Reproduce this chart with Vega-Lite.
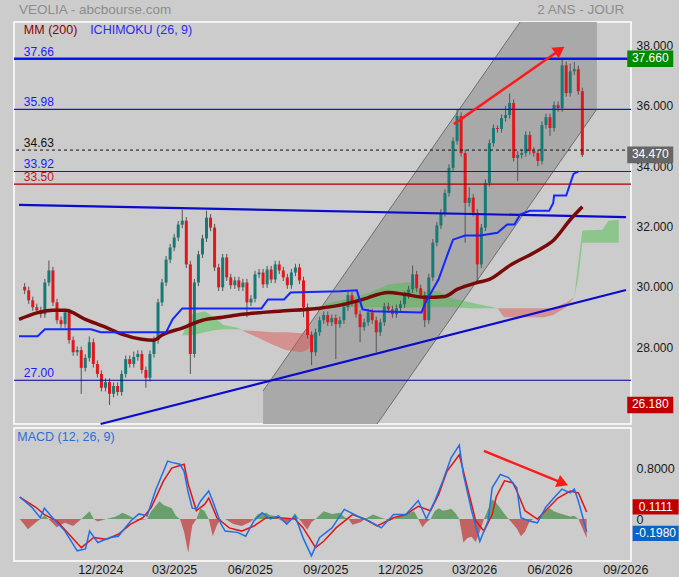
{
  "$schema": "https://vega.github.io/schema/vega-lite/v6.json",
  "description": "VEOLIA - cours 2 ans, MM200, Ichimoku, canal et MACD",
  "background": "#cccccc",
  "padding": {"left": 11, "top": 2, "right": 0, "bottom": 0},
  "bounds": "flush",
  "config": {
    "font": "Liberation Sans",
    "view": {"stroke": "#ffffff", "strokeWidth": 1.5},
    "axis": {"grid": false, "domain": false, "ticks": false}
  },
  "spacing": 4,
  "datasets": {
    "cours": [
      {"d":"2024-08-25","o":30.10,"h":30.22,"l":29.86,"c":29.98},
      {"d":"2024-08-30","o":29.98,"h":30.10,"l":29.53,"c":29.65},
      {"d":"2024-09-04","o":29.65,"h":29.77,"l":29.30,"c":29.42},
      {"d":"2024-09-09","o":29.42,"h":29.54,"l":29.20,"c":29.32},
      {"d":"2024-09-14","o":29.32,"h":29.44,"l":29.07,"c":29.19},
      {"d":"2024-09-19","o":29.19,"h":30.36,"l":29.07,"c":30.24},
      {"d":"2024-09-24","o":30.24,"h":30.97,"l":30.12,"c":30.64},
      {"d":"2024-09-29","o":30.64,"h":30.76,"l":29.46,"c":29.58},
      {"d":"2024-10-04","o":29.58,"h":29.70,"l":28.87,"c":28.99},
      {"d":"2024-10-09","o":28.99,"h":29.11,"l":28.74,"c":28.86},
      {"d":"2024-10-14","o":28.86,"h":29.37,"l":28.74,"c":29.25},
      {"d":"2024-10-19","o":29.25,"h":29.37,"l":28.21,"c":28.33},
      {"d":"2024-10-24","o":28.33,"h":28.45,"l":27.81,"c":27.93},
      {"d":"2024-10-29","o":27.93,"h":28.12,"l":27.81,"c":28.00},
      {"d":"2024-11-03","o":28.00,"h":28.12,"l":26.55,"c":27.41},
      {"d":"2024-11-08","o":27.41,"h":27.86,"l":27.29,"c":27.74},
      {"d":"2024-11-13","o":27.74,"h":28.45,"l":27.62,"c":28.26},
      {"d":"2024-11-18","o":28.26,"h":28.38,"l":27.42,"c":27.54},
      {"d":"2024-11-23","o":27.54,"h":27.66,"l":27.09,"c":27.21},
      {"d":"2024-11-28","o":27.21,"h":27.33,"l":26.63,"c":26.75},
      {"d":"2024-12-03","o":26.75,"h":27.06,"l":26.63,"c":26.94},
      {"d":"2024-12-08","o":26.94,"h":27.06,"l":26.18,"c":26.55},
      {"d":"2024-12-13","o":26.55,"h":26.93,"l":26.43,"c":26.81},
      {"d":"2024-12-18","o":26.81,"h":26.93,"l":26.49,"c":26.61},
      {"d":"2024-12-23","o":26.61,"h":27.33,"l":26.49,"c":27.21},
      {"d":"2024-12-28","o":27.21,"h":27.82,"l":27.09,"c":27.70},
      {"d":"2025-01-02","o":27.70,"h":27.82,"l":27.42,"c":27.54},
      {"d":"2025-01-07","o":27.54,"h":27.95,"l":27.42,"c":27.77},
      {"d":"2025-01-12","o":27.77,"h":27.99,"l":27.65,"c":27.87},
      {"d":"2025-01-17","o":27.87,"h":27.99,"l":27.22,"c":27.34},
      {"d":"2025-01-22","o":27.34,"h":27.46,"l":26.75,"c":27.08},
      {"d":"2025-01-27","o":27.08,"h":27.99,"l":26.96,"c":27.87},
      {"d":"2025-02-01","o":27.87,"h":28.45,"l":27.75,"c":28.33},
      {"d":"2025-02-06","o":28.33,"h":29.70,"l":28.21,"c":29.58},
      {"d":"2025-02-11","o":29.58,"h":30.36,"l":29.46,"c":30.24},
      {"d":"2025-02-16","o":30.24,"h":31.12,"l":30.12,"c":31.00},
      {"d":"2025-02-21","o":31.00,"h":31.52,"l":30.88,"c":31.40},
      {"d":"2025-02-26","o":31.40,"h":31.85,"l":31.28,"c":31.73},
      {"d":"2025-03-03","o":31.73,"h":32.28,"l":31.61,"c":32.16},
      {"d":"2025-03-08","o":32.16,"h":32.65,"l":32.04,"c":32.29},
      {"d":"2025-03-13","o":32.29,"h":32.41,"l":30.72,"c":30.84},
      {"d":"2025-03-18","o":30.84,"h":30.96,"l":27.21,"c":27.87},
      {"d":"2025-03-23","o":27.87,"h":30.36,"l":27.75,"c":30.24},
      {"d":"2025-03-28","o":30.24,"h":31.29,"l":30.12,"c":31.17},
      {"d":"2025-04-02","o":31.17,"h":31.82,"l":31.05,"c":31.70},
      {"d":"2025-04-07","o":31.70,"h":32.62,"l":31.58,"c":32.39},
      {"d":"2025-04-12","o":32.39,"h":32.51,"l":31.94,"c":32.06},
      {"d":"2025-04-17","o":32.06,"h":32.18,"l":30.62,"c":30.74},
      {"d":"2025-04-22","o":30.74,"h":30.86,"l":29.96,"c":30.08},
      {"d":"2025-04-27","o":30.08,"h":31.19,"l":29.96,"c":31.07},
      {"d":"2025-05-02","o":31.07,"h":31.19,"l":30.29,"c":30.41},
      {"d":"2025-05-07","o":30.41,"h":30.53,"l":30.03,"c":30.15},
      {"d":"2025-05-12","o":30.15,"h":30.43,"l":30.03,"c":30.31},
      {"d":"2025-05-17","o":30.31,"h":30.43,"l":29.96,"c":30.08},
      {"d":"2025-05-22","o":30.08,"h":30.36,"l":29.96,"c":30.24},
      {"d":"2025-05-27","o":30.24,"h":30.36,"l":29.09,"c":29.58},
      {"d":"2025-06-01","o":29.58,"h":29.82,"l":29.46,"c":29.70},
      {"d":"2025-06-06","o":29.70,"h":30.63,"l":29.58,"c":30.51},
      {"d":"2025-06-11","o":30.51,"h":30.69,"l":30.39,"c":30.57},
      {"d":"2025-06-16","o":30.57,"h":30.69,"l":30.06,"c":30.18},
      {"d":"2025-06-21","o":30.18,"h":30.79,"l":30.06,"c":30.67},
      {"d":"2025-06-26","o":30.67,"h":30.79,"l":30.22,"c":30.34},
      {"d":"2025-07-01","o":30.34,"h":30.96,"l":30.22,"c":30.84},
      {"d":"2025-07-06","o":30.84,"h":30.96,"l":30.52,"c":30.64},
      {"d":"2025-07-11","o":30.64,"h":30.76,"l":30.29,"c":30.41},
      {"d":"2025-07-16","o":30.41,"h":30.53,"l":30.03,"c":30.15},
      {"d":"2025-07-21","o":30.15,"h":30.69,"l":30.03,"c":30.57},
      {"d":"2025-07-26","o":30.57,"h":30.86,"l":30.45,"c":30.74},
      {"d":"2025-07-31","o":30.74,"h":30.86,"l":30.19,"c":30.31},
      {"d":"2025-08-05","o":30.31,"h":30.43,"l":29.09,"c":29.42},
      {"d":"2025-08-10","o":29.42,"h":29.54,"l":28.38,"c":28.50},
      {"d":"2025-08-15","o":28.50,"h":28.62,"l":27.50,"c":27.93},
      {"d":"2025-08-20","o":27.93,"h":28.71,"l":27.81,"c":28.59},
      {"d":"2025-08-25","o":28.59,"h":29.11,"l":28.47,"c":28.99},
      {"d":"2025-08-30","o":28.99,"h":29.28,"l":28.87,"c":29.16},
      {"d":"2025-09-04","o":29.16,"h":29.28,"l":28.80,"c":28.92},
      {"d":"2025-09-09","o":28.92,"h":29.18,"l":28.80,"c":29.06},
      {"d":"2025-09-14","o":29.06,"h":29.18,"l":27.70,"c":28.86},
      {"d":"2025-09-19","o":28.86,"h":29.11,"l":28.74,"c":28.99},
      {"d":"2025-09-24","o":28.99,"h":29.54,"l":28.87,"c":29.42},
      {"d":"2025-09-29","o":29.42,"h":29.98,"l":29.30,"c":29.82},
      {"d":"2025-10-04","o":29.82,"h":29.94,"l":29.46,"c":29.58},
      {"d":"2025-10-09","o":29.58,"h":29.70,"l":29.07,"c":29.19},
      {"d":"2025-10-14","o":29.19,"h":29.31,"l":28.26,"c":28.76},
      {"d":"2025-10-19","o":28.76,"h":29.04,"l":28.64,"c":28.92},
      {"d":"2025-10-24","o":28.92,"h":29.37,"l":28.80,"c":29.25},
      {"d":"2025-10-29","o":29.25,"h":29.37,"l":28.87,"c":28.99},
      {"d":"2025-11-03","o":28.99,"h":29.11,"l":27.93,"c":28.59},
      {"d":"2025-11-08","o":28.59,"h":29.04,"l":28.47,"c":28.92},
      {"d":"2025-11-13","o":28.92,"h":29.57,"l":28.80,"c":29.45},
      {"d":"2025-11-18","o":29.45,"h":29.57,"l":29.23,"c":29.35},
      {"d":"2025-11-23","o":29.35,"h":29.47,"l":29.07,"c":29.19},
      {"d":"2025-11-28","o":29.19,"h":29.51,"l":29.07,"c":29.39},
      {"d":"2025-12-03","o":29.39,"h":29.64,"l":29.27,"c":29.52},
      {"d":"2025-12-08","o":29.52,"h":29.94,"l":29.40,"c":29.82},
      {"d":"2025-12-13","o":29.82,"h":30.13,"l":29.70,"c":30.01},
      {"d":"2025-12-18","o":30.01,"h":30.80,"l":29.89,"c":30.51},
      {"d":"2025-12-23","o":30.51,"h":30.63,"l":29.93,"c":30.05},
      {"d":"2025-12-28","o":30.05,"h":30.17,"l":29.70,"c":29.82},
      {"d":"2026-01-02","o":29.82,"h":29.94,"l":28.76,"c":28.99},
      {"d":"2026-01-07","o":28.99,"h":30.53,"l":28.87,"c":30.41},
      {"d":"2026-01-12","o":30.41,"h":31.68,"l":30.29,"c":31.56},
      {"d":"2026-01-17","o":31.56,"h":32.25,"l":31.44,"c":32.13},
      {"d":"2026-01-22","o":32.13,"h":32.67,"l":32.01,"c":32.55},
      {"d":"2026-01-27","o":32.55,"h":33.33,"l":32.43,"c":33.21},
      {"d":"2026-02-01","o":33.21,"h":34.16,"l":33.09,"c":34.04},
      {"d":"2026-02-06","o":34.04,"h":35.05,"l":33.92,"c":34.93},
      {"d":"2026-02-11","o":34.93,"h":35.98,"l":34.81,"c":35.76},
      {"d":"2026-02-16","o":35.76,"h":35.88,"l":34.41,"c":34.53},
      {"d":"2026-02-21","o":34.53,"h":34.65,"l":31.56,"c":32.88},
      {"d":"2026-02-26","o":32.88,"h":33.40,"l":32.76,"c":33.05},
      {"d":"2026-03-03","o":33.05,"h":33.17,"l":32.43,"c":32.55},
      {"d":"2026-03-08","o":32.55,"h":32.67,"l":30.24,"c":30.84},
      {"d":"2026-03-13","o":30.84,"h":32.18,"l":30.72,"c":32.06},
      {"d":"2026-03-18","o":32.06,"h":33.66,"l":31.94,"c":33.54},
      {"d":"2026-03-23","o":33.54,"h":34.98,"l":33.42,"c":34.86},
      {"d":"2026-03-28","o":34.86,"h":35.48,"l":34.74,"c":35.36},
      {"d":"2026-04-02","o":35.36,"h":35.45,"l":35.21,"c":35.33},
      {"d":"2026-04-07","o":35.33,"h":35.81,"l":35.21,"c":35.69},
      {"d":"2026-04-12","o":35.69,"h":36.10,"l":35.57,"c":35.79},
      {"d":"2026-04-17","o":35.79,"h":36.51,"l":35.67,"c":36.19},
      {"d":"2026-04-22","o":36.19,"h":36.31,"l":34.25,"c":34.37},
      {"d":"2026-04-27","o":34.37,"h":34.59,"l":33.60,"c":34.47},
      {"d":"2026-05-02","o":34.47,"h":34.65,"l":34.35,"c":34.53},
      {"d":"2026-05-07","o":34.53,"h":35.25,"l":34.41,"c":35.13},
      {"d":"2026-05-12","o":35.13,"h":35.25,"l":34.48,"c":34.60},
      {"d":"2026-05-17","o":34.60,"h":34.72,"l":34.41,"c":34.53},
      {"d":"2026-05-22","o":34.53,"h":34.65,"l":34.10,"c":34.27},
      {"d":"2026-05-27","o":34.27,"h":35.58,"l":34.15,"c":35.46},
      {"d":"2026-06-01","o":35.46,"h":35.84,"l":35.34,"c":35.72},
      {"d":"2026-06-06","o":35.72,"h":35.84,"l":35.10,"c":35.36},
      {"d":"2026-06-11","o":35.36,"h":36.24,"l":35.24,"c":36.12},
      {"d":"2026-06-16","o":36.12,"h":36.24,"l":35.90,"c":36.02},
      {"d":"2026-06-21","o":36.02,"h":37.66,"l":35.90,"c":37.44},
      {"d":"2026-06-26","o":37.44,"h":37.56,"l":36.40,"c":36.52},
      {"d":"2026-07-01","o":36.52,"h":37.50,"l":36.40,"c":37.24},
      {"d":"2026-07-06","o":37.24,"h":37.55,"l":37.12,"c":37.31},
      {"d":"2026-07-11","o":37.31,"h":37.43,"l":36.46,"c":36.58},
      {"d":"2026-07-16","o":36.58,"h":36.70,"l":34.40,"c":34.47}
    ],
    "mm200": [
      {"d":"2024-08-18","p":29.02},{"d":"2024-09-29","p":29.32},{"d":"2024-10-14","p":29.32},
      {"d":"2024-11-08","p":29.02},{"d":"2024-12-03","p":28.76},{"d":"2024-12-23","p":28.53},
      {"d":"2025-01-17","p":28.36},{"d":"2025-02-01","p":28.33},{"d":"2025-02-11","p":28.50},
      {"d":"2025-03-08","p":28.73},{"d":"2025-04-02","p":28.99},{"d":"2025-04-27","p":29.09},
      {"d":"2025-05-22","p":29.19},{"d":"2025-06-16","p":29.25},{"d":"2025-07-06","p":29.29},
      {"d":"2025-08-25","p":29.39},{"d":"2025-09-19","p":29.49},{"d":"2025-10-14","p":29.65},
      {"d":"2025-11-18","p":29.91},{"d":"2025-12-08","p":29.85},{"d":"2026-01-02","p":29.75},
      {"d":"2026-01-27","p":29.78},{"d":"2026-02-11","p":30.01},{"d":"2026-03-08","p":30.24},
      {"d":"2026-03-23","p":30.34},{"d":"2026-04-17","p":30.80},{"d":"2026-05-22","p":31.30},
      {"d":"2026-06-11","p":31.66},{"d":"2026-07-01","p":32.32},{"d":"2026-07-16","p":32.75}
    ],
    "ichimoku": [
      {"d":"2024-08-18","p":28.46},{"d":"2024-09-10","p":28.46},{"d":"2024-09-19","p":28.69},
      {"d":"2024-11-15","p":28.69},{"d":"2024-11-27","p":28.59},{"d":"2025-02-16","p":28.59},
      {"d":"2025-02-24","p":29.02},{"d":"2025-03-08","p":29.38},{"d":"2025-06-14","p":29.38},
      {"d":"2025-06-22","p":29.68},{"d":"2025-07-12","p":29.68},{"d":"2025-07-20","p":29.91},
      {"d":"2025-09-19","p":29.95},{"d":"2025-10-10","p":29.98},{"d":"2025-10-17","p":29.35},
      {"d":"2025-10-29","p":29.29},{"d":"2025-12-29","p":29.25},{"d":"2026-01-03","p":29.58},
      {"d":"2026-01-19","p":30.34},{"d":"2026-01-31","p":31.23},{"d":"2026-02-06","p":31.66},
      {"d":"2026-02-21","p":31.80},{"d":"2026-03-12","p":31.80},{"d":"2026-04-02","p":31.89},
      {"d":"2026-04-14","p":32.16},{"d":"2026-04-23","p":32.16},{"d":"2026-04-30","p":32.49},
      {"d":"2026-05-12","p":32.62},{"d":"2026-06-05","p":32.62},{"d":"2026-06-10","p":32.88},
      {"d":"2026-06-11","p":33.12},{"d":"2026-06-26","p":33.12},{"d":"2026-07-05","p":33.84},
      {"d":"2026-07-11","p":33.92}
    ],
    "nuage_vert": [
      {"seg":"g1","d":"2025-03-08","sup":28.49,"inf":28.49},
      {"seg":"g1","d":"2025-03-20","sup":29.19,"inf":28.49},
      {"seg":"g1","d":"2025-04-05","sup":29.29,"inf":28.59},
      {"seg":"g1","d":"2025-04-16","sup":29.09,"inf":28.66},
      {"seg":"g1","d":"2025-04-28","sup":28.83,"inf":28.69},
      {"seg":"g1","d":"2025-05-17","sup":28.73,"inf":28.69},
      {"seg":"g1","d":"2025-05-20","sup":28.66,"inf":28.66},
      {"seg":"g2","d":"2025-08-20","sup":29.38,"inf":29.38},
      {"seg":"g2","d":"2025-08-22","sup":29.42,"inf":29.35},
      {"seg":"g2","d":"2025-09-07","sup":29.58,"inf":29.39},
      {"seg":"g2","d":"2025-09-25","sup":29.68,"inf":29.42},
      {"seg":"g2","d":"2025-10-26","sup":29.91,"inf":29.42},
      {"seg":"g2","d":"2025-11-19","sup":30.18,"inf":29.42},
      {"seg":"g2","d":"2025-12-13","sup":30.24,"inf":29.42},
      {"seg":"g2","d":"2025-12-29","sup":29.95,"inf":29.42},
      {"seg":"g2","d":"2026-01-19","sup":29.95,"inf":29.42},
      {"seg":"g2","d":"2026-02-04","sup":29.72,"inf":29.42},
      {"seg":"g2","d":"2026-02-28","sup":29.58,"inf":29.39},
      {"seg":"g2","d":"2026-04-02","sup":29.39,"inf":29.39},
      {"seg":"g3","d":"2026-07-06","sup":29.75,"inf":29.75},
      {"seg":"g3","d":"2026-07-11","sup":30.90,"inf":30.41},
      {"seg":"g3","d":"2026-07-16","sup":31.96,"inf":31.56},
      {"seg":"g3","d":"2026-08-10","sup":31.99,"inf":31.56},
      {"seg":"g3","d":"2026-08-17","sup":32.29,"inf":31.56},
      {"seg":"g3","d":"2026-08-30","sup":32.32,"inf":31.56}
    ],
    "nuage_rouge": [
      {"seg":"r1","d":"2025-05-20","sup":28.66,"inf":28.66},
      {"seg":"r1","d":"2025-06-08","sup":28.63,"inf":28.43},
      {"seg":"r1","d":"2025-06-26","sup":28.59,"inf":28.20},
      {"seg":"r1","d":"2025-07-14","sup":28.59,"inf":28.00},
      {"seg":"r1","d":"2025-08-02","sup":28.56,"inf":27.93},
      {"seg":"r1","d":"2025-08-11","sup":28.56,"inf":28.03},
      {"seg":"r1","d":"2025-08-20","sup":28.53,"inf":28.53},
      {"seg":"r2","d":"2026-04-02","sup":29.39,"inf":29.39},
      {"seg":"r2","d":"2026-04-10","sup":29.39,"inf":29.09},
      {"seg":"r2","d":"2026-04-30","sup":29.39,"inf":29.09},
      {"seg":"r2","d":"2026-05-29","sup":29.39,"inf":29.09},
      {"seg":"r2","d":"2026-06-10","sup":29.39,"inf":29.16},
      {"seg":"r2","d":"2026-06-26","sup":29.58,"inf":29.42},
      {"seg":"r2","d":"2026-07-06","sup":29.75,"inf":29.75}
    ],
    "canal": [
      {"d":"2025-06-16","bas":25.55,"haut":26.645},
      {"d":"2025-11-04","bas":25.55,"haut":32.07},
      {"d":"2026-04-30","bas":32.34,"haut":38.875},
      {"d":"2026-08-03","bas":35.99,"haut":38.875}
    ],
    "canal_bords": [
      {"bord":"haut","d":"2025-06-16","p":26.645},{"bord":"haut","d":"2026-04-30","p":38.875},
      {"bord":"bas","d":"2025-11-04","p":25.55},{"bord":"bas","d":"2026-08-03","p":35.99}
    ],
    "tendances": [
      {"ligne":"descendante","d":"2024-08-18","p":32.81},{"ligne":"descendante","d":"2026-09-08","p":32.41},
      {"ligne":"montante","d":"2024-11-27","p":25.55},{"ligne":"montante","d":"2026-09-08","p":29.99}
    ],
    "niveaux": [
      {"d":"2024-08-24","p":37.66,"lab":"37.66","kind":"haut"},
      {"d":"2024-08-24","p":35.98,"lab":"35.98","kind":"bleu"},
      {"d":"2024-08-24","p":34.63,"lab":"34.63","kind":"pointille"},
      {"d":"2024-08-24","p":33.92,"lab":"33.92","kind":"bleu"},
      {"d":"2024-08-24","p":33.50,"lab":"33.50","kind":"rouge"},
      {"d":"2024-08-24","p":27.00,"lab":"27.00","kind":"bas"}
    ],
    "etiquettes_cours": [
      {"d":"2026-10-08","p":37.66,"lab":"37.660","kind":"haut"},
      {"d":"2026-10-08","p":34.47,"lab":"34.470","kind":"dernier"},
      {"d":"2026-10-08","p":26.18,"lab":"26.180","kind":"bas"}
    ],
    "macd": [
      {"serie":"MACD","d":"2024-08-25","v":0.345},{"serie":"MACD","d":"2024-09-09","v":0.18},
      {"serie":"MACD","d":"2024-09-19","v":0.02},{"serie":"MACD","d":"2024-09-24","v":0.17},
      {"serie":"MACD","d":"2024-10-04","v":0.02},{"serie":"MACD","d":"2024-10-19","v":-0.19},
      {"serie":"MACD","d":"2024-11-03","v":-0.50},{"serie":"MACD","d":"2024-11-13","v":-0.47},
      {"serie":"MACD","d":"2024-11-18","v":-0.19},{"serie":"MACD","d":"2024-11-28","v":-0.37},
      {"serie":"MACD","d":"2024-12-13","v":-0.29},{"serie":"MACD","d":"2024-12-23","v":-0.27},
      {"serie":"MACD","d":"2025-01-07","v":-0.03},{"serie":"MACD","d":"2025-01-17","v":0.08},
      {"serie":"MACD","d":"2025-01-27","v":0.05},{"serie":"MACD","d":"2025-02-06","v":0.44},
      {"serie":"MACD","d":"2025-02-16","v":0.75},{"serie":"MACD","d":"2025-02-21","v":0.91},
      {"serie":"MACD","d":"2025-02-26","v":0.89},{"serie":"MACD","d":"2025-03-08","v":0.86},
      {"serie":"MACD","d":"2025-03-13","v":0.75},{"serie":"MACD","d":"2025-03-18","v":0.42},
      {"serie":"MACD","d":"2025-03-23","v":0.17},{"serie":"MACD","d":"2025-03-28","v":0.16},
      {"serie":"MACD","d":"2025-04-02","v":0.28},{"serie":"MACD","d":"2025-04-12","v":0.44},
      {"serie":"MACD","d":"2025-04-17","v":0.28},{"serie":"MACD","d":"2025-04-27","v":-0.08},
      {"serie":"MACD","d":"2025-05-02","v":-0.19},{"serie":"MACD","d":"2025-05-17","v":-0.21},
      {"serie":"MACD","d":"2025-05-27","v":-0.27},{"serie":"MACD","d":"2025-06-06","v":-0.03},
      {"serie":"MACD","d":"2025-06-16","v":0.10},{"serie":"MACD","d":"2025-06-26","v":0.0},
      {"serie":"MACD","d":"2025-07-06","v":0.05},{"serie":"MACD","d":"2025-07-16","v":-0.08},
      {"serie":"MACD","d":"2025-07-26","v":0.05},{"serie":"MACD","d":"2025-08-05","v":-0.30},
      {"serie":"MACD","d":"2025-08-15","v":-0.58},{"serie":"MACD","d":"2025-08-25","v":-0.29},
      {"serie":"MACD","d":"2025-09-09","v":-0.14},{"serie":"MACD","d":"2025-09-24","v":0.15},
      {"serie":"MACD","d":"2025-10-14","v":0.02},{"serie":"MACD","d":"2025-10-24","v":-0.03},
      {"serie":"MACD","d":"2025-11-08","v":-0.14},{"serie":"MACD","d":"2025-11-23","v":0.07},
      {"serie":"MACD","d":"2025-12-08","v":0.07},{"serie":"MACD","d":"2025-12-23","v":0.29},
      {"serie":"MACD","d":"2026-01-02","v":0.0},{"serie":"MACD","d":"2026-01-12","v":0.28},
      {"serie":"MACD","d":"2026-01-22","v":0.60},{"serie":"MACD","d":"2026-02-01","v":0.96},
      {"serie":"MACD","d":"2026-02-11","v":1.16},{"serie":"MACD","d":"2026-02-16","v":0.70},
      {"serie":"MACD","d":"2026-02-26","v":0.13},{"serie":"MACD","d":"2026-03-08","v":-0.35},
      {"serie":"MACD","d":"2026-03-18","v":-0.03},{"serie":"MACD","d":"2026-03-23","v":0.49},
      {"serie":"MACD","d":"2026-04-02","v":0.70},{"serie":"MACD","d":"2026-04-12","v":0.65},
      {"serie":"MACD","d":"2026-04-22","v":0.49},{"serie":"MACD","d":"2026-04-27","v":0.02},
      {"serie":"MACD","d":"2026-05-07","v":-0.03},{"serie":"MACD","d":"2026-05-17","v":-0.06},
      {"serie":"MACD","d":"2026-05-27","v":0.18},{"serie":"MACD","d":"2026-06-06","v":0.33},
      {"serie":"MACD","d":"2026-06-16","v":0.47},{"serie":"MACD","d":"2026-06-26","v":0.41},
      {"serie":"MACD","d":"2026-07-01","v":0.47},{"serie":"MACD","d":"2026-07-06","v":0.28},
      {"serie":"MACD","d":"2026-07-16","v":-0.198},
      {"serie":"Signal","d":"2024-08-25","v":0.345},{"serie":"Signal","d":"2024-09-14","v":0.18},
      {"serie":"Signal","d":"2024-09-24","v":0.07},{"serie":"Signal","d":"2024-10-09","v":-0.03},
      {"serie":"Signal","d":"2024-10-24","v":-0.24},{"serie":"Signal","d":"2024-11-08","v":-0.45},
      {"serie":"Signal","d":"2024-11-23","v":-0.29},{"serie":"Signal","d":"2024-12-08","v":-0.32},
      {"serie":"Signal","d":"2024-12-23","v":-0.24},{"serie":"Signal","d":"2025-01-07","v":-0.08},
      {"serie":"Signal","d":"2025-01-22","v":0.02},{"serie":"Signal","d":"2025-02-01","v":0.18},
      {"serie":"Signal","d":"2025-02-16","v":0.60},{"serie":"Signal","d":"2025-02-26","v":0.80},
      {"serie":"Signal","d":"2025-03-13","v":0.86},{"serie":"Signal","d":"2025-03-18","v":0.55},
      {"serie":"Signal","d":"2025-03-28","v":0.13},{"serie":"Signal","d":"2025-04-07","v":0.23},
      {"serie":"Signal","d":"2025-04-12","v":0.33},{"serie":"Signal","d":"2025-04-22","v":0.02},
      {"serie":"Signal","d":"2025-05-07","v":-0.14},{"serie":"Signal","d":"2025-05-22","v":-0.19},
      {"serie":"Signal","d":"2025-06-06","v":-0.11},{"serie":"Signal","d":"2025-06-21","v":0.02},
      {"serie":"Signal","d":"2025-07-06","v":0.02},{"serie":"Signal","d":"2025-07-26","v":0.0},
      {"serie":"Signal","d":"2025-08-05","v":-0.14},{"serie":"Signal","d":"2025-08-20","v":-0.45},
      {"serie":"Signal","d":"2025-08-30","v":-0.35},{"serie":"Signal","d":"2025-09-14","v":-0.14},
      {"serie":"Signal","d":"2025-10-04","v":0.07},{"serie":"Signal","d":"2025-10-19","v":0.0},
      {"serie":"Signal","d":"2025-11-03","v":-0.11},{"serie":"Signal","d":"2025-11-23","v":0.02},
      {"serie":"Signal","d":"2025-12-08","v":0.07},{"serie":"Signal","d":"2025-12-23","v":0.20},
      {"serie":"Signal","d":"2026-01-07","v":0.13},{"serie":"Signal","d":"2026-01-17","v":0.39},
      {"serie":"Signal","d":"2026-01-27","v":0.75},{"serie":"Signal","d":"2026-02-11","v":1.01},
      {"serie":"Signal","d":"2026-02-21","v":0.49},{"serie":"Signal","d":"2026-03-03","v":-0.03},
      {"serie":"Signal","d":"2026-03-13","v":-0.19},{"serie":"Signal","d":"2026-03-23","v":0.07},
      {"serie":"Signal","d":"2026-03-28","v":0.35},{"serie":"Signal","d":"2026-04-07","v":0.60},
      {"serie":"Signal","d":"2026-04-17","v":0.57},{"serie":"Signal","d":"2026-04-22","v":0.44},
      {"serie":"Signal","d":"2026-05-02","v":0.13},{"serie":"Signal","d":"2026-05-17","v":0.0},
      {"serie":"Signal","d":"2026-05-27","v":0.13},{"serie":"Signal","d":"2026-06-11","v":0.33},
      {"serie":"Signal","d":"2026-06-26","v":0.44},{"serie":"Signal","d":"2026-07-06","v":0.41},
      {"serie":"Signal","d":"2026-07-16","v":0.111}
    ],
    "histo_pos": [
      {"seg":"p1","d":"2024-09-19","v":0},{"seg":"p1","d":"2024-09-24","v":0.05},{"seg":"p1","d":"2024-09-29","v":0},
      {"seg":"p2","d":"2024-11-08","v":0},{"seg":"p2","d":"2024-11-18","v":0.12},{"seg":"p2","d":"2024-11-23","v":0},
      {"seg":"p3","d":"2024-12-08","v":0},{"seg":"p3","d":"2024-12-18","v":0.03},{"seg":"p3","d":"2024-12-23","v":0.06},
      {"seg":"p3","d":"2024-12-28","v":0.10},{"seg":"p3","d":"2025-01-07","v":0.04},{"seg":"p3","d":"2025-01-12","v":0},
      {"seg":"p4","d":"2025-01-27","v":0},{"seg":"p4","d":"2025-02-01","v":0.12},{"seg":"p4","d":"2025-02-11","v":0.28},
      {"seg":"p4","d":"2025-02-16","v":0.22},{"seg":"p4","d":"2025-02-26","v":0.17},{"seg":"p4","d":"2025-03-03","v":0.05},
      {"seg":"p4","d":"2025-03-08","v":0},
      {"seg":"p5","d":"2025-03-28","v":0},{"seg":"p5","d":"2025-04-02","v":0.17},{"seg":"p5","d":"2025-04-07","v":0.12},
      {"seg":"p5","d":"2025-04-12","v":0},
      {"seg":"p6","d":"2025-06-06","v":0},{"seg":"p6","d":"2025-06-11","v":0.08},{"seg":"p6","d":"2025-06-21","v":0.10},
      {"seg":"p6","d":"2025-06-26","v":0.06},{"seg":"p6","d":"2025-07-01","v":0.05},{"seg":"p6","d":"2025-07-06","v":0},
      {"seg":"p7","d":"2025-07-21","v":0},{"seg":"p7","d":"2025-07-26","v":0.09},{"seg":"p7","d":"2025-07-31","v":0},
      {"seg":"p8","d":"2025-08-20","v":0},{"seg":"p8","d":"2025-08-30","v":0.12},{"seg":"p8","d":"2025-09-09","v":0.08},
      {"seg":"p8","d":"2025-09-19","v":0.10},{"seg":"p8","d":"2025-09-24","v":0.03},{"seg":"p8","d":"2025-09-29","v":0},
      {"seg":"p9","d":"2025-10-19","v":0},{"seg":"p9","d":"2025-10-29","v":0.07},{"seg":"p9","d":"2025-11-08","v":0.02},
      {"seg":"p9","d":"2025-11-13","v":0},
      {"seg":"p10","d":"2025-11-23","v":0},{"seg":"p10","d":"2025-12-03","v":0.05},{"seg":"p10","d":"2025-12-13","v":0.10},
      {"seg":"p10","d":"2025-12-18","v":0.12},{"seg":"p10","d":"2025-12-23","v":0},
      {"seg":"p11","d":"2026-01-07","v":0},{"seg":"p11","d":"2026-01-12","v":0.12},{"seg":"p11","d":"2026-01-17","v":0.17},
      {"seg":"p11","d":"2026-01-22","v":0.13},{"seg":"p11","d":"2026-01-27","v":0.14},{"seg":"p11","d":"2026-02-01","v":0.16},
      {"seg":"p11","d":"2026-02-06","v":0.10},{"seg":"p11","d":"2026-02-11","v":0},
      {"seg":"p12","d":"2026-03-13","v":0},{"seg":"p12","d":"2026-03-18","v":0.15},{"seg":"p12","d":"2026-03-23","v":0.31},
      {"seg":"p12","d":"2026-03-28","v":0.25},{"seg":"p12","d":"2026-04-02","v":0.17},{"seg":"p12","d":"2026-04-07","v":0.08},
      {"seg":"p12","d":"2026-04-12","v":0},
      {"seg":"p13","d":"2026-05-17","v":0},{"seg":"p13","d":"2026-05-22","v":0.05},{"seg":"p13","d":"2026-05-27","v":0.12},
      {"seg":"p13","d":"2026-06-01","v":0.17},{"seg":"p13","d":"2026-06-06","v":0.12},{"seg":"p13","d":"2026-06-11","v":0.10},
      {"seg":"p13","d":"2026-06-16","v":0.08},{"seg":"p13","d":"2026-06-21","v":0.06},{"seg":"p13","d":"2026-06-26","v":0.04},
      {"seg":"p13","d":"2026-07-01","v":0.05},{"seg":"p13","d":"2026-07-06","v":0}
    ],
    "histo_neg": [
      {"seg":"n1","d":"2024-08-25","v":0},{"seg":"n1","d":"2024-08-30","v":-0.08},{"seg":"n1","d":"2024-09-04","v":-0.16},
      {"seg":"n1","d":"2024-09-14","v":-0.05},{"seg":"n1","d":"2024-09-19","v":0},
      {"seg":"n2","d":"2024-09-29","v":0},{"seg":"n2","d":"2024-10-09","v":-0.13},{"seg":"n2","d":"2024-10-19","v":-0.06},
      {"seg":"n2","d":"2024-10-29","v":-0.11},{"seg":"n2","d":"2024-11-08","v":0},
      {"seg":"n3","d":"2024-11-23","v":0},{"seg":"n3","d":"2024-11-28","v":-0.04},{"seg":"n3","d":"2024-12-08","v":0},
      {"seg":"n4","d":"2025-01-12","v":0},{"seg":"n4","d":"2025-01-17","v":-0.02},{"seg":"n4","d":"2025-01-27","v":0},
      {"seg":"n5","d":"2025-03-08","v":0},{"seg":"n5","d":"2025-03-13","v":-0.20},{"seg":"n5","d":"2025-03-18","v":-0.53},
      {"seg":"n5","d":"2025-03-23","v":-0.10},{"seg":"n5","d":"2025-03-28","v":0},
      {"seg":"n6","d":"2025-04-12","v":0},{"seg":"n6","d":"2025-04-17","v":-0.27},{"seg":"n6","d":"2025-04-22","v":-0.10},
      {"seg":"n6","d":"2025-04-27","v":0},
      {"seg":"n7","d":"2025-05-02","v":0},{"seg":"n7","d":"2025-05-12","v":-0.08},{"seg":"n7","d":"2025-05-22","v":-0.11},
      {"seg":"n7","d":"2025-06-01","v":-0.05},{"seg":"n7","d":"2025-06-06","v":0},
      {"seg":"n8","d":"2025-07-06","v":0},{"seg":"n8","d":"2025-07-16","v":-0.07},{"seg":"n8","d":"2025-07-21","v":0},
      {"seg":"n9","d":"2025-07-31","v":0},{"seg":"n9","d":"2025-08-10","v":-0.17},{"seg":"n9","d":"2025-08-15","v":-0.05},
      {"seg":"n9","d":"2025-08-20","v":0},
      {"seg":"n10","d":"2025-09-29","v":0},{"seg":"n10","d":"2025-10-04","v":-0.09},{"seg":"n10","d":"2025-10-14","v":-0.05},
      {"seg":"n10","d":"2025-10-19","v":0},
      {"seg":"n11","d":"2025-11-13","v":0},{"seg":"n11","d":"2025-11-18","v":-0.03},{"seg":"n11","d":"2025-11-23","v":0},
      {"seg":"n12","d":"2025-12-23","v":0},{"seg":"n12","d":"2025-12-28","v":-0.13},{"seg":"n12","d":"2026-01-02","v":-0.05},
      {"seg":"n12","d":"2026-01-07","v":0},
      {"seg":"n13","d":"2026-02-11","v":0},{"seg":"n13","d":"2026-02-16","v":-0.37},{"seg":"n13","d":"2026-02-21","v":-0.30},
      {"seg":"n13","d":"2026-02-26","v":-0.28},{"seg":"n13","d":"2026-03-03","v":-0.36},{"seg":"n13","d":"2026-03-08","v":-0.20},
      {"seg":"n13","d":"2026-03-13","v":0},
      {"seg":"n14","d":"2026-04-12","v":0},{"seg":"n14","d":"2026-04-22","v":-0.15},{"seg":"n14","d":"2026-04-27","v":-0.27},
      {"seg":"n14","d":"2026-05-02","v":-0.20},{"seg":"n14","d":"2026-05-07","v":-0.05},{"seg":"n14","d":"2026-05-12","v":0},
      {"seg":"n15","d":"2026-07-06","v":0},{"seg":"n15","d":"2026-07-11","v":-0.15},{"seg":"n15","d":"2026-07-16","v":-0.30}
    ],
    "etiquettes_macd": [
      {"d":"2026-10-08","v":0.19,"lab":"0.1111","kind":"signal"},
      {"d":"2026-10-08","v":-0.227,"lab":"-0.1980","kind":"macd"}
    ]
  },
  "vconcat": [
    {
      "width": 617,
      "height": 402,
      "layer": [
        {
          "data": {"name": "canal"},
          "mark": {"type": "area", "color": "#a9a9a9"},
          "encoding": {
            "x": {"field": "d", "type": "temporal", "axis": null,
                  "scale": {"type": "utc", "domain": ["2024-08-18", "2026-09-08"]}},
            "y": {"field": "bas", "type": "quantitative",
                  "scale": {"domain": [25.55, 38.875], "nice": false, "zero": false},
                  "axis": {"orient": "right", "values": [28, 30, 32, 34, 36, 38], "format": ".3f", "title": null,
                           "labelFontSize": 12, "labelColor": "#1a1a1a", "labelPadding": 5, "labelOffset": -3}},
            "y2": {"field": "haut"}
          }
        },
        {
          "data": {"name": "canal_bords"},
          "mark": {"type": "line", "color": "#6e6e6e", "strokeWidth": 1},
          "encoding": {
            "x": {"field": "d", "type": "temporal", "axis": null},
            "y": {"field": "p", "type": "quantitative"},
            "detail": {"field": "bord", "type": "nominal"}
          }
        },
        {
          "data": {"name": "nuage_vert"},
          "mark": {"type": "area", "color": "#3fbf3f", "opacity": 0.45},
          "encoding": {
            "x": {"field": "d", "type": "temporal", "axis": null},
            "y": {"field": "sup", "type": "quantitative"},
            "y2": {"field": "inf"},
            "detail": {"field": "seg", "type": "nominal"}
          }
        },
        {
          "data": {"name": "nuage_rouge"},
          "mark": {"type": "area", "color": "#e04848", "opacity": 0.45},
          "encoding": {
            "x": {"field": "d", "type": "temporal", "axis": null},
            "y": {"field": "sup", "type": "quantitative"},
            "y2": {"field": "inf"},
            "detail": {"field": "seg", "type": "nominal"}
          }
        },
        {
          "data": {"name": "cours"},
          "mark": {"type": "rule", "color": "#555555", "strokeWidth": 1},
          "encoding": {
            "x": {"field": "d", "type": "temporal", "axis": null},
            "y": {"field": "l", "type": "quantitative"},
            "y2": {"field": "h"}
          }
        },
        {
          "data": {"name": "cours"},
          "mark": {"type": "bar", "width": 3},
          "encoding": {
            "x": {"field": "d", "type": "temporal", "axis": null},
            "y": {"field": "o", "type": "quantitative"},
            "y2": {"field": "c"},
            "color": {"condition": {"test": "datum.c >= datum.o", "value": "#167a76"}, "value": "#e3161b"}
          }
        },
        {
          "data": {"name": "niveaux"},
          "transform": [{"filter": "datum.kind == 'haut'"}],
          "mark": {"type": "rule", "color": "#0a14f0", "strokeWidth": 2.5},
          "encoding": {"y": {"field": "p", "type": "quantitative"}}
        },
        {
          "data": {"name": "niveaux"},
          "transform": [{"filter": "datum.kind == 'bleu'"}],
          "mark": {"type": "rule", "color": "#1414dd", "strokeWidth": 1.2},
          "encoding": {"y": {"field": "p", "type": "quantitative"}}
        },
        {
          "data": {"name": "niveaux"},
          "transform": [{"filter": "datum.kind == 'pointille'"}],
          "mark": {"type": "rule", "color": "#111111", "strokeWidth": 1, "strokeDash": [3, 3]},
          "encoding": {"y": {"field": "p", "type": "quantitative"}}
        },
        {
          "data": {"name": "niveaux"},
          "transform": [{"filter": "datum.kind == 'rouge'"}],
          "mark": {"type": "rule", "color": "#a80000", "strokeWidth": 1.2},
          "encoding": {"y": {"field": "p", "type": "quantitative"}}
        },
        {
          "data": {"name": "niveaux"},
          "transform": [{"filter": "datum.kind == 'bas'"}],
          "mark": {"type": "rule", "color": "#00008c", "strokeWidth": 1.2},
          "encoding": {"y": {"field": "p", "type": "quantitative"}}
        },
        {
          "data": {"name": "niveaux"},
          "transform": [{"filter": "datum.kind == 'haut' || datum.kind == 'bleu' || datum.kind == 'bas'"}],
          "mark": {"type": "text", "align": "left", "baseline": "alphabetic", "dy": -3, "fontSize": 12, "color": "#1a1aff"},
          "encoding": {
            "x": {"field": "d", "type": "temporal", "axis": null},
            "y": {"field": "p", "type": "quantitative"},
            "text": {"field": "lab", "type": "nominal"}
          }
        },
        {
          "data": {"name": "niveaux"},
          "transform": [{"filter": "datum.kind == 'pointille'"}],
          "mark": {"type": "text", "align": "left", "baseline": "alphabetic", "dy": -3, "fontSize": 12, "color": "#111111"},
          "encoding": {
            "x": {"field": "d", "type": "temporal", "axis": null},
            "y": {"field": "p", "type": "quantitative"},
            "text": {"field": "lab", "type": "nominal"}
          }
        },
        {
          "data": {"name": "niveaux"},
          "transform": [{"filter": "datum.kind == 'rouge'"}],
          "mark": {"type": "text", "align": "left", "baseline": "alphabetic", "dy": -3, "fontSize": 12, "color": "#c01818"},
          "encoding": {
            "x": {"field": "d", "type": "temporal", "axis": null},
            "y": {"field": "p", "type": "quantitative"},
            "text": {"field": "lab", "type": "nominal"}
          }
        },
        {
          "data": {"name": "tendances"},
          "mark": {"type": "line", "color": "#0b0bcc", "strokeWidth": 2.2},
          "encoding": {
            "x": {"field": "d", "type": "temporal", "axis": null},
            "y": {"field": "p", "type": "quantitative"},
            "detail": {"field": "ligne", "type": "nominal"}
          }
        },
        {
          "data": {"name": "mm200"},
          "mark": {"type": "line", "color": "#7a0a0a", "strokeWidth": 3.5, "interpolate": "monotone"},
          "encoding": {
            "x": {"field": "d", "type": "temporal", "axis": null},
            "y": {"field": "p", "type": "quantitative"}
          }
        },
        {
          "data": {"name": "ichimoku"},
          "mark": {"type": "line", "color": "#1228ff", "strokeWidth": 2},
          "encoding": {
            "x": {"field": "d", "type": "temporal", "axis": null},
            "y": {"field": "p", "type": "quantitative"}
          }
        },
        {
          "data": {"values": [{"d": "2026-02-07", "p": 35.49}, {"d": "2026-06-18", "p": 37.95}]},
          "mark": {"type": "line", "color": "#ff1a1a", "strokeWidth": 2.5},
          "encoding": {
            "x": {"field": "d", "type": "temporal", "axis": null},
            "y": {"field": "p", "type": "quantitative"}
          }
        },
        {
          "data": {"values": [{"d": "2026-06-18", "p": 37.95}]},
          "mark": {"type": "point", "shape": "triangle-right", "filled": true, "opacity": 1, "color": "#ff1a1a", "size": 170, "angle": 325.5},
          "encoding": {
            "x": {"field": "d", "type": "temporal", "axis": null},
            "y": {"field": "p", "type": "quantitative"}
          }
        },
        {
          "data": {"values": [{"t": "MM (200)", "d": "2024-08-24", "p": 38.61}]},
          "mark": {"type": "text", "align": "left", "baseline": "middle", "fontSize": 12.5, "color": "#8b0000"},
          "encoding": {
            "x": {"field": "d", "type": "temporal", "axis": null},
            "y": {"field": "p", "type": "quantitative"},
            "text": {"field": "t", "type": "nominal"}
          }
        },
        {
          "data": {"values": [{"t": "ICHIMOKU (26, 9)", "d": "2024-11-14", "p": 38.61}]},
          "mark": {"type": "text", "align": "left", "baseline": "middle", "fontSize": 12.5, "color": "#2a2aee"},
          "encoding": {
            "x": {"field": "d", "type": "temporal", "axis": null},
            "y": {"field": "p", "type": "quantitative"},
            "text": {"field": "t", "type": "nominal"}
          }
        },
        {
          "data": {"values": [{"t": "VEOLIA - abcbourse.com", "d": "2024-08-18", "p": 39.27}]},
          "mark": {"type": "text", "align": "left", "baseline": "middle", "fontSize": 13.5, "color": "#8c8c8c"},
          "encoding": {
            "x": {"field": "d", "type": "temporal", "axis": null},
            "y": {"field": "p", "type": "quantitative"},
            "text": {"field": "t", "type": "nominal"}
          }
        },
        {
          "data": {"values": [{"t": "2 ANS - JOUR", "d": "2026-09-06", "p": 39.27}]},
          "mark": {"type": "text", "align": "right", "baseline": "middle", "fontSize": 13.5, "color": "#8c8c8c"},
          "encoding": {
            "x": {"field": "d", "type": "temporal", "axis": null},
            "y": {"field": "p", "type": "quantitative"},
            "text": {"field": "t", "type": "nominal"}
          }
        },
        {
          "data": {"name": "etiquettes_cours"},
          "transform": [{"filter": "datum.kind == 'haut'"}],
          "mark": {"type": "point", "shape": "M-1,-0.36H1V0.36H-1Z", "filled": true, "opacity": 1, "size": 2116, "color": "#008a00"},
          "encoding": {
            "x": {"field": "d", "type": "temporal", "axis": null},
            "y": {"field": "p", "type": "quantitative"}
          }
        },
        {
          "data": {"name": "etiquettes_cours"},
          "transform": [{"filter": "datum.kind == 'dernier'"}],
          "mark": {"type": "point", "shape": "M-1,-0.36H1V0.36H-1Z", "filled": true, "opacity": 1, "size": 2116, "color": "#666666"},
          "encoding": {
            "x": {"field": "d", "type": "temporal", "axis": null},
            "y": {"field": "p", "type": "quantitative"}
          }
        },
        {
          "data": {"name": "etiquettes_cours"},
          "transform": [{"filter": "datum.kind == 'bas'"}],
          "mark": {"type": "point", "shape": "M-1,-0.36H1V0.36H-1Z", "filled": true, "opacity": 1, "size": 2116, "color": "#c00000"},
          "encoding": {
            "x": {"field": "d", "type": "temporal", "axis": null},
            "y": {"field": "p", "type": "quantitative"}
          }
        },
        {
          "data": {"name": "etiquettes_cours"},
          "mark": {"type": "text", "align": "center", "baseline": "middle", "fontSize": 12, "dy": -1, "color": "#ffffff"},
          "encoding": {
            "x": {"field": "d", "type": "temporal", "axis": null},
            "y": {"field": "p", "type": "quantitative"},
            "text": {"field": "lab", "type": "nominal"}
          }
        }
      ]
    },
    {
      "width": 617,
      "height": 133,
      "layer": [
        {
          "data": {"name": "histo_pos"},
          "mark": {"type": "area", "color": "#6a9e6a"},
          "encoding": {
            "x": {"field": "d", "type": "temporal",
                  "scale": {"type": "utc", "domain": ["2024-08-18", "2026-09-08"]},
                  "axis": {"orient": "bottom", "title": null, "labelFontSize": 12.5, "labelColor": "#1a1a1a", "labelPadding": 2,
                           "labelOverlap": false, "labelFlush": false,
                           "values": ["2024-12-01", "2025-03-01", "2025-06-01", "2025-09-01", "2025-12-01", "2026-03-01", "2026-06-01", "2026-09-01"],
                           "labelExpr": "utcFormat(datum.value, '%m/%Y')"}},
            "y": {"field": "v", "type": "quantitative", "stack": null,
                  "scale": {"domain": [-0.66, 1.43], "nice": false, "zero": false},
                  "axis": {"orient": "right", "values": [0, 0.8], "title": null, "labelFontSize": 12.5, "labelColor": "#1a1a1a", "labelPadding": 5,
                           "labelExpr": "datum.value == 0 ? '0' : format(datum.value, '.4f')"}},
            "detail": {"field": "seg", "type": "nominal"}
          }
        },
        {
          "data": {"name": "histo_neg"},
          "mark": {"type": "area", "color": "#c46262"},
          "encoding": {
            "x": {"field": "d", "type": "temporal"},
            "y": {"field": "v", "type": "quantitative", "stack": null},
            "detail": {"field": "seg", "type": "nominal"}
          }
        },
        {
          "data": {"name": "macd"},
          "transform": [{"filter": "datum.serie == 'Signal'"}],
          "mark": {"type": "line", "strokeWidth": 1.5, "color": "#e01515"},
          "encoding": {
            "x": {"field": "d", "type": "temporal"},
            "y": {"field": "v", "type": "quantitative"}
          }
        },
        {
          "data": {"name": "macd"},
          "transform": [{"filter": "datum.serie == 'MACD'"}],
          "mark": {"type": "line", "strokeWidth": 1.5, "color": "#1f6fe6"},
          "encoding": {
            "x": {"field": "d", "type": "temporal"},
            "y": {"field": "v", "type": "quantitative"}
          }
        },
        {
          "data": {"values": [{"t": "MACD (12, 26, 9)", "d": "2024-08-22", "v": 1.289}]},
          "mark": {"type": "text", "align": "left", "baseline": "middle", "fontSize": 12.5, "color": "#2b6fd6"},
          "encoding": {
            "x": {"field": "d", "type": "temporal"},
            "y": {"field": "v", "type": "quantitative"},
            "text": {"field": "t", "type": "nominal"}
          }
        },
        {
          "data": {"values": [{"d": "2026-03-13", "v": 1.07}, {"d": "2026-06-17", "v": 0.563}]},
          "mark": {"type": "line", "color": "#ff1a1a", "strokeWidth": 2.5},
          "encoding": {
            "x": {"field": "d", "type": "temporal"},
            "y": {"field": "v", "type": "quantitative"}
          }
        },
        {
          "data": {"values": [{"d": "2026-06-17", "v": 0.563}]},
          "mark": {"type": "point", "shape": "triangle-right", "filled": true, "opacity": 1, "color": "#ff1a1a", "size": 170, "angle": 22.3},
          "encoding": {
            "x": {"field": "d", "type": "temporal"},
            "y": {"field": "v", "type": "quantitative"}
          }
        },
        {
          "data": {"name": "etiquettes_macd"},
          "transform": [{"filter": "datum.kind == 'signal'"}],
          "mark": {"type": "point", "shape": "M-1,-0.33H1V0.33H-1Z", "filled": true, "opacity": 1, "size": 2116, "color": "#c00000"},
          "encoding": {
            "x": {"field": "d", "type": "temporal"},
            "y": {"field": "v", "type": "quantitative"}
          }
        },
        {
          "data": {"name": "etiquettes_macd"},
          "transform": [{"filter": "datum.kind == 'macd'"}],
          "mark": {"type": "point", "shape": "M-1,-0.33H1V0.33H-1Z", "filled": true, "opacity": 1, "size": 2116, "color": "#0a64c8"},
          "encoding": {
            "x": {"field": "d", "type": "temporal"},
            "y": {"field": "v", "type": "quantitative"}
          }
        },
        {
          "data": {"name": "etiquettes_macd"},
          "mark": {"type": "text", "align": "center", "baseline": "middle", "fontSize": 12, "color": "#ffffff"},
          "encoding": {
            "x": {"field": "d", "type": "temporal"},
            "y": {"field": "v", "type": "quantitative"},
            "text": {"field": "lab", "type": "nominal"}
          }
        }
      ]
    }
  ]
}
